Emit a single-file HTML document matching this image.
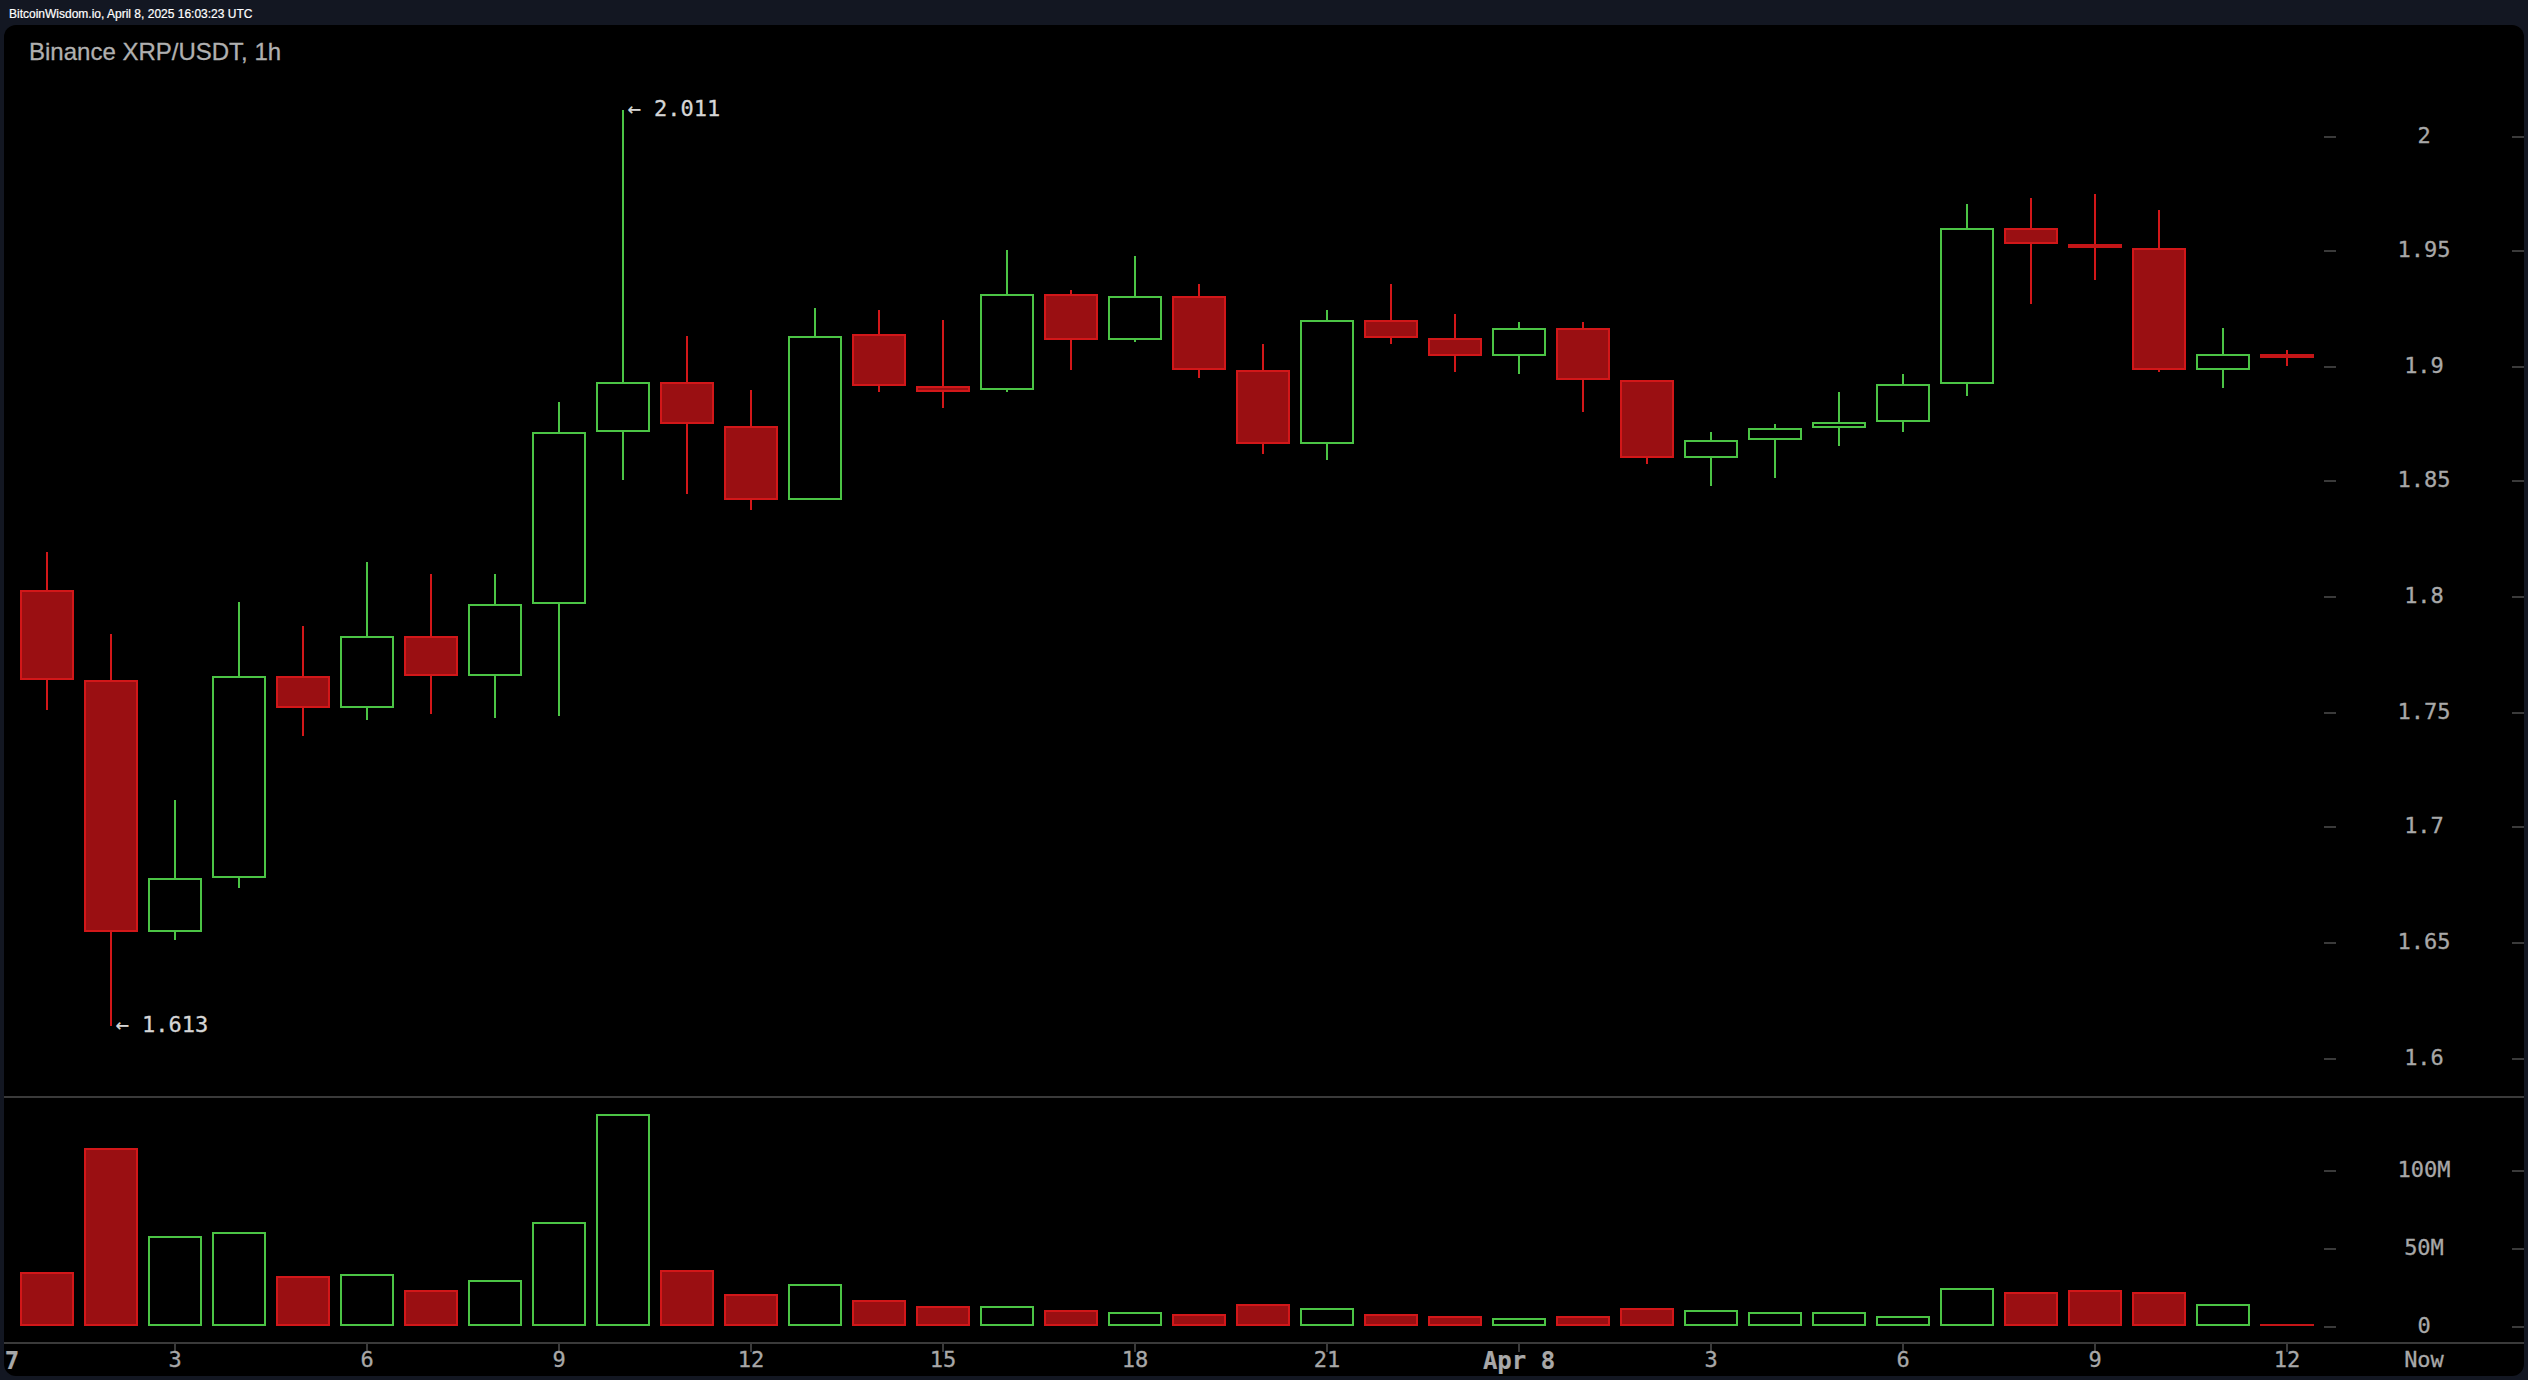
<!DOCTYPE html>
<html><head><meta charset="utf-8"><title>Binance XRP/USDT, 1h</title>
<style>
html,body{margin:0;padding:0;}
body{width:2528px;height:1380px;background:#131722;overflow:hidden;position:relative;font-family:"Liberation Sans",Arial,sans-serif;}
#hdr{position:absolute;left:9px;top:0;height:25px;line-height:25px;font-size:12px;color:#fff;white-space:nowrap;-webkit-text-stroke:0.2px #fff;}
#hdr span{position:absolute;left:0;top:6.8px;line-height:normal;}
#panel{position:absolute;left:4px;top:25px;width:2520px;height:1351px;background:#000;border-radius:12px;overflow:hidden;}
#title{position:absolute;left:25px;top:12.7px;font-size:24px;color:#b0b0b0;white-space:nowrap;line-height:normal;-webkit-text-stroke:0.3px #b0b0b0;}
svg{position:absolute;left:-4px;top:-25px;}
.ax{font-family:"DejaVu Sans Mono",monospace;font-size:22px;fill:#a8a8a8;stroke:#a8a8a8;stroke-width:0.3px;}
.b{font-weight:bold;font-size:24px;stroke-width:0.2px;}
.hl{font-family:"DejaVu Sans Mono",monospace;font-size:22px;fill:#d6d6d6;stroke:#d6d6d6;stroke-width:0.3px;}
</style></head>
<body>
<div id="hdr"><span>BitcoinWisdom.io, April 8, 2025 16:03:23 UTC</span></div>
<div id="panel">
<div id="title">Binance XRP/USDT, 1h</div>
<svg width="2528" height="1380" viewBox="0 0 2528 1380" shape-rendering="crispEdges">
<rect x="46" y="552" width="2" height="38" fill="#d21719"/>
<rect x="46" y="680" width="2" height="30" fill="#d21719"/>
<rect x="20" y="590" width="54" height="90" fill="#d21719"/>
<rect x="22" y="592" width="50" height="86" fill="#9a0f12"/>
<rect x="20" y="1272" width="54" height="54" fill="#d21719"/>
<rect x="22" y="1274" width="50" height="50" fill="#9a0f12"/>
<rect x="110" y="634" width="2" height="46" fill="#d21719"/>
<rect x="110" y="932" width="2" height="94" fill="#d21719"/>
<rect x="84" y="680" width="54" height="252" fill="#d21719"/>
<rect x="86" y="682" width="50" height="248" fill="#9a0f12"/>
<rect x="84" y="1148" width="54" height="178" fill="#d21719"/>
<rect x="86" y="1150" width="50" height="174" fill="#9a0f12"/>
<rect x="174" y="800" width="2" height="78" fill="#4bc445"/>
<rect x="174" y="932" width="2" height="8" fill="#4bc445"/>
<rect x="148" y="878" width="54" height="54" fill="#4bc445"/>
<rect x="150" y="880" width="50" height="50" fill="#000"/>
<rect x="148" y="1236" width="54" height="90" fill="#4bc445"/>
<rect x="150" y="1238" width="50" height="86" fill="#000"/>
<rect x="238" y="602" width="2" height="74" fill="#4bc445"/>
<rect x="238" y="878" width="2" height="10" fill="#4bc445"/>
<rect x="212" y="676" width="54" height="202" fill="#4bc445"/>
<rect x="214" y="678" width="50" height="198" fill="#000"/>
<rect x="212" y="1232" width="54" height="94" fill="#4bc445"/>
<rect x="214" y="1234" width="50" height="90" fill="#000"/>
<rect x="302" y="626" width="2" height="50" fill="#d21719"/>
<rect x="302" y="708" width="2" height="28" fill="#d21719"/>
<rect x="276" y="676" width="54" height="32" fill="#d21719"/>
<rect x="278" y="678" width="50" height="28" fill="#9a0f12"/>
<rect x="276" y="1276" width="54" height="50" fill="#d21719"/>
<rect x="278" y="1278" width="50" height="46" fill="#9a0f12"/>
<rect x="366" y="562" width="2" height="74" fill="#4bc445"/>
<rect x="366" y="708" width="2" height="12" fill="#4bc445"/>
<rect x="340" y="636" width="54" height="72" fill="#4bc445"/>
<rect x="342" y="638" width="50" height="68" fill="#000"/>
<rect x="340" y="1274" width="54" height="52" fill="#4bc445"/>
<rect x="342" y="1276" width="50" height="48" fill="#000"/>
<rect x="430" y="574" width="2" height="62" fill="#d21719"/>
<rect x="430" y="676" width="2" height="38" fill="#d21719"/>
<rect x="404" y="636" width="54" height="40" fill="#d21719"/>
<rect x="406" y="638" width="50" height="36" fill="#9a0f12"/>
<rect x="404" y="1290" width="54" height="36" fill="#d21719"/>
<rect x="406" y="1292" width="50" height="32" fill="#9a0f12"/>
<rect x="494" y="574" width="2" height="30" fill="#4bc445"/>
<rect x="494" y="676" width="2" height="42" fill="#4bc445"/>
<rect x="468" y="604" width="54" height="72" fill="#4bc445"/>
<rect x="470" y="606" width="50" height="68" fill="#000"/>
<rect x="468" y="1280" width="54" height="46" fill="#4bc445"/>
<rect x="470" y="1282" width="50" height="42" fill="#000"/>
<rect x="558" y="402" width="2" height="30" fill="#4bc445"/>
<rect x="558" y="604" width="2" height="112" fill="#4bc445"/>
<rect x="532" y="432" width="54" height="172" fill="#4bc445"/>
<rect x="534" y="434" width="50" height="168" fill="#000"/>
<rect x="532" y="1222" width="54" height="104" fill="#4bc445"/>
<rect x="534" y="1224" width="50" height="100" fill="#000"/>
<rect x="622" y="110" width="2" height="272" fill="#4bc445"/>
<rect x="622" y="432" width="2" height="48" fill="#4bc445"/>
<rect x="596" y="382" width="54" height="50" fill="#4bc445"/>
<rect x="598" y="384" width="50" height="46" fill="#000"/>
<rect x="596" y="1114" width="54" height="212" fill="#4bc445"/>
<rect x="598" y="1116" width="50" height="208" fill="#000"/>
<rect x="686" y="336" width="2" height="46" fill="#d21719"/>
<rect x="686" y="424" width="2" height="70" fill="#d21719"/>
<rect x="660" y="382" width="54" height="42" fill="#d21719"/>
<rect x="662" y="384" width="50" height="38" fill="#9a0f12"/>
<rect x="660" y="1270" width="54" height="56" fill="#d21719"/>
<rect x="662" y="1272" width="50" height="52" fill="#9a0f12"/>
<rect x="750" y="390" width="2" height="36" fill="#d21719"/>
<rect x="750" y="500" width="2" height="10" fill="#d21719"/>
<rect x="724" y="426" width="54" height="74" fill="#d21719"/>
<rect x="726" y="428" width="50" height="70" fill="#9a0f12"/>
<rect x="724" y="1294" width="54" height="32" fill="#d21719"/>
<rect x="726" y="1296" width="50" height="28" fill="#9a0f12"/>
<rect x="814" y="308" width="2" height="28" fill="#4bc445"/>
<rect x="788" y="336" width="54" height="164" fill="#4bc445"/>
<rect x="790" y="338" width="50" height="160" fill="#000"/>
<rect x="788" y="1284" width="54" height="42" fill="#4bc445"/>
<rect x="790" y="1286" width="50" height="38" fill="#000"/>
<rect x="878" y="310" width="2" height="24" fill="#d21719"/>
<rect x="878" y="386" width="2" height="6" fill="#d21719"/>
<rect x="852" y="334" width="54" height="52" fill="#d21719"/>
<rect x="854" y="336" width="50" height="48" fill="#9a0f12"/>
<rect x="852" y="1300" width="54" height="26" fill="#d21719"/>
<rect x="854" y="1302" width="50" height="22" fill="#9a0f12"/>
<rect x="942" y="320" width="2" height="66" fill="#d21719"/>
<rect x="942" y="392" width="2" height="16" fill="#d21719"/>
<rect x="916" y="386" width="54" height="6" fill="#d21719"/>
<rect x="918" y="388" width="50" height="2" fill="#9a0f12"/>
<rect x="916" y="1306" width="54" height="20" fill="#d21719"/>
<rect x="918" y="1308" width="50" height="16" fill="#9a0f12"/>
<rect x="1006" y="250" width="2" height="44" fill="#4bc445"/>
<rect x="1006" y="390" width="2" height="2" fill="#4bc445"/>
<rect x="980" y="294" width="54" height="96" fill="#4bc445"/>
<rect x="982" y="296" width="50" height="92" fill="#000"/>
<rect x="980" y="1306" width="54" height="20" fill="#4bc445"/>
<rect x="982" y="1308" width="50" height="16" fill="#000"/>
<rect x="1070" y="290" width="2" height="4" fill="#d21719"/>
<rect x="1070" y="340" width="2" height="30" fill="#d21719"/>
<rect x="1044" y="294" width="54" height="46" fill="#d21719"/>
<rect x="1046" y="296" width="50" height="42" fill="#9a0f12"/>
<rect x="1044" y="1310" width="54" height="16" fill="#d21719"/>
<rect x="1046" y="1312" width="50" height="12" fill="#9a0f12"/>
<rect x="1134" y="256" width="2" height="40" fill="#4bc445"/>
<rect x="1134" y="340" width="2" height="2" fill="#4bc445"/>
<rect x="1108" y="296" width="54" height="44" fill="#4bc445"/>
<rect x="1110" y="298" width="50" height="40" fill="#000"/>
<rect x="1108" y="1312" width="54" height="14" fill="#4bc445"/>
<rect x="1110" y="1314" width="50" height="10" fill="#000"/>
<rect x="1198" y="284" width="2" height="12" fill="#d21719"/>
<rect x="1198" y="370" width="2" height="8" fill="#d21719"/>
<rect x="1172" y="296" width="54" height="74" fill="#d21719"/>
<rect x="1174" y="298" width="50" height="70" fill="#9a0f12"/>
<rect x="1172" y="1314" width="54" height="12" fill="#d21719"/>
<rect x="1174" y="1316" width="50" height="8" fill="#9a0f12"/>
<rect x="1262" y="344" width="2" height="26" fill="#d21719"/>
<rect x="1262" y="444" width="2" height="10" fill="#d21719"/>
<rect x="1236" y="370" width="54" height="74" fill="#d21719"/>
<rect x="1238" y="372" width="50" height="70" fill="#9a0f12"/>
<rect x="1236" y="1304" width="54" height="22" fill="#d21719"/>
<rect x="1238" y="1306" width="50" height="18" fill="#9a0f12"/>
<rect x="1326" y="310" width="2" height="10" fill="#4bc445"/>
<rect x="1326" y="444" width="2" height="16" fill="#4bc445"/>
<rect x="1300" y="320" width="54" height="124" fill="#4bc445"/>
<rect x="1302" y="322" width="50" height="120" fill="#000"/>
<rect x="1300" y="1308" width="54" height="18" fill="#4bc445"/>
<rect x="1302" y="1310" width="50" height="14" fill="#000"/>
<rect x="1390" y="284" width="2" height="36" fill="#d21719"/>
<rect x="1390" y="338" width="2" height="6" fill="#d21719"/>
<rect x="1364" y="320" width="54" height="18" fill="#d21719"/>
<rect x="1366" y="322" width="50" height="14" fill="#9a0f12"/>
<rect x="1364" y="1314" width="54" height="12" fill="#d21719"/>
<rect x="1366" y="1316" width="50" height="8" fill="#9a0f12"/>
<rect x="1454" y="314" width="2" height="24" fill="#d21719"/>
<rect x="1454" y="356" width="2" height="16" fill="#d21719"/>
<rect x="1428" y="338" width="54" height="18" fill="#d21719"/>
<rect x="1430" y="340" width="50" height="14" fill="#9a0f12"/>
<rect x="1428" y="1316" width="54" height="10" fill="#d21719"/>
<rect x="1430" y="1318" width="50" height="6" fill="#9a0f12"/>
<rect x="1518" y="322" width="2" height="6" fill="#4bc445"/>
<rect x="1518" y="356" width="2" height="18" fill="#4bc445"/>
<rect x="1492" y="328" width="54" height="28" fill="#4bc445"/>
<rect x="1494" y="330" width="50" height="24" fill="#000"/>
<rect x="1492" y="1318" width="54" height="8" fill="#4bc445"/>
<rect x="1494" y="1320" width="50" height="4" fill="#000"/>
<rect x="1582" y="322" width="2" height="6" fill="#d21719"/>
<rect x="1582" y="380" width="2" height="32" fill="#d21719"/>
<rect x="1556" y="328" width="54" height="52" fill="#d21719"/>
<rect x="1558" y="330" width="50" height="48" fill="#9a0f12"/>
<rect x="1556" y="1316" width="54" height="10" fill="#d21719"/>
<rect x="1558" y="1318" width="50" height="6" fill="#9a0f12"/>
<rect x="1646" y="458" width="2" height="6" fill="#d21719"/>
<rect x="1620" y="380" width="54" height="78" fill="#d21719"/>
<rect x="1622" y="382" width="50" height="74" fill="#9a0f12"/>
<rect x="1620" y="1308" width="54" height="18" fill="#d21719"/>
<rect x="1622" y="1310" width="50" height="14" fill="#9a0f12"/>
<rect x="1710" y="432" width="2" height="8" fill="#4bc445"/>
<rect x="1710" y="458" width="2" height="28" fill="#4bc445"/>
<rect x="1684" y="440" width="54" height="18" fill="#4bc445"/>
<rect x="1686" y="442" width="50" height="14" fill="#000"/>
<rect x="1684" y="1310" width="54" height="16" fill="#4bc445"/>
<rect x="1686" y="1312" width="50" height="12" fill="#000"/>
<rect x="1774" y="424" width="2" height="4" fill="#4bc445"/>
<rect x="1774" y="440" width="2" height="38" fill="#4bc445"/>
<rect x="1748" y="428" width="54" height="12" fill="#4bc445"/>
<rect x="1750" y="430" width="50" height="8" fill="#000"/>
<rect x="1748" y="1312" width="54" height="14" fill="#4bc445"/>
<rect x="1750" y="1314" width="50" height="10" fill="#000"/>
<rect x="1838" y="392" width="2" height="30" fill="#4bc445"/>
<rect x="1838" y="428" width="2" height="18" fill="#4bc445"/>
<rect x="1812" y="422" width="54" height="6" fill="#4bc445"/>
<rect x="1814" y="424" width="50" height="2" fill="#000"/>
<rect x="1812" y="1312" width="54" height="14" fill="#4bc445"/>
<rect x="1814" y="1314" width="50" height="10" fill="#000"/>
<rect x="1902" y="374" width="2" height="10" fill="#4bc445"/>
<rect x="1902" y="422" width="2" height="10" fill="#4bc445"/>
<rect x="1876" y="384" width="54" height="38" fill="#4bc445"/>
<rect x="1878" y="386" width="50" height="34" fill="#000"/>
<rect x="1876" y="1316" width="54" height="10" fill="#4bc445"/>
<rect x="1878" y="1318" width="50" height="6" fill="#000"/>
<rect x="1966" y="204" width="2" height="24" fill="#4bc445"/>
<rect x="1966" y="384" width="2" height="12" fill="#4bc445"/>
<rect x="1940" y="228" width="54" height="156" fill="#4bc445"/>
<rect x="1942" y="230" width="50" height="152" fill="#000"/>
<rect x="1940" y="1288" width="54" height="38" fill="#4bc445"/>
<rect x="1942" y="1290" width="50" height="34" fill="#000"/>
<rect x="2030" y="198" width="2" height="30" fill="#d21719"/>
<rect x="2030" y="244" width="2" height="60" fill="#d21719"/>
<rect x="2004" y="228" width="54" height="16" fill="#d21719"/>
<rect x="2006" y="230" width="50" height="12" fill="#9a0f12"/>
<rect x="2004" y="1292" width="54" height="34" fill="#d21719"/>
<rect x="2006" y="1294" width="50" height="30" fill="#9a0f12"/>
<rect x="2094" y="194" width="2" height="50" fill="#d21719"/>
<rect x="2094" y="248" width="2" height="32" fill="#d21719"/>
<rect x="2068" y="244" width="54" height="4" fill="#c41517"/>
<rect x="2068" y="1290" width="54" height="36" fill="#d21719"/>
<rect x="2070" y="1292" width="50" height="32" fill="#9a0f12"/>
<rect x="2158" y="210" width="2" height="38" fill="#d21719"/>
<rect x="2158" y="370" width="2" height="2" fill="#d21719"/>
<rect x="2132" y="248" width="54" height="122" fill="#d21719"/>
<rect x="2134" y="250" width="50" height="118" fill="#9a0f12"/>
<rect x="2132" y="1292" width="54" height="34" fill="#d21719"/>
<rect x="2134" y="1294" width="50" height="30" fill="#9a0f12"/>
<rect x="2222" y="328" width="2" height="26" fill="#4bc445"/>
<rect x="2222" y="370" width="2" height="18" fill="#4bc445"/>
<rect x="2196" y="354" width="54" height="16" fill="#4bc445"/>
<rect x="2198" y="356" width="50" height="12" fill="#000"/>
<rect x="2196" y="1304" width="54" height="22" fill="#4bc445"/>
<rect x="2198" y="1306" width="50" height="18" fill="#000"/>
<rect x="2286" y="350" width="2" height="4" fill="#d21719"/>
<rect x="2286" y="358" width="2" height="8" fill="#d21719"/>
<rect x="2260" y="354" width="54" height="4" fill="#c41517"/>
<rect x="2260" y="1324" width="54" height="2" fill="#c41517"/>
<rect x="2324" y="136" width="12" height="2" fill="#3a3a3a"/>
<rect x="2512" y="136" width="12" height="2" fill="#3a3a3a"/>
<rect x="2324" y="250" width="12" height="2" fill="#3a3a3a"/>
<rect x="2512" y="250" width="12" height="2" fill="#3a3a3a"/>
<rect x="2324" y="366" width="12" height="2" fill="#3a3a3a"/>
<rect x="2512" y="366" width="12" height="2" fill="#3a3a3a"/>
<rect x="2324" y="480" width="12" height="2" fill="#3a3a3a"/>
<rect x="2512" y="480" width="12" height="2" fill="#3a3a3a"/>
<rect x="2324" y="596" width="12" height="2" fill="#3a3a3a"/>
<rect x="2512" y="596" width="12" height="2" fill="#3a3a3a"/>
<rect x="2324" y="712" width="12" height="2" fill="#3a3a3a"/>
<rect x="2512" y="712" width="12" height="2" fill="#3a3a3a"/>
<rect x="2324" y="826" width="12" height="2" fill="#3a3a3a"/>
<rect x="2512" y="826" width="12" height="2" fill="#3a3a3a"/>
<rect x="2324" y="942" width="12" height="2" fill="#3a3a3a"/>
<rect x="2512" y="942" width="12" height="2" fill="#3a3a3a"/>
<rect x="2324" y="1058" width="12" height="2" fill="#3a3a3a"/>
<rect x="2512" y="1058" width="12" height="2" fill="#3a3a3a"/>
<rect x="2324" y="1170" width="12" height="2" fill="#3a3a3a"/>
<rect x="2512" y="1170" width="12" height="2" fill="#3a3a3a"/>
<rect x="2324" y="1248" width="12" height="2" fill="#3a3a3a"/>
<rect x="2512" y="1248" width="12" height="2" fill="#3a3a3a"/>
<rect x="2324" y="1326" width="12" height="2" fill="#3a3a3a"/>
<rect x="2512" y="1326" width="12" height="2" fill="#3a3a3a"/>
<rect x="-18" y="1344" width="2" height="8" fill="#3a3a3a"/>
<rect x="174" y="1344" width="2" height="8" fill="#3a3a3a"/>
<rect x="366" y="1344" width="2" height="8" fill="#3a3a3a"/>
<rect x="558" y="1344" width="2" height="8" fill="#3a3a3a"/>
<rect x="750" y="1344" width="2" height="8" fill="#3a3a3a"/>
<rect x="942" y="1344" width="2" height="8" fill="#3a3a3a"/>
<rect x="1134" y="1344" width="2" height="8" fill="#3a3a3a"/>
<rect x="1326" y="1344" width="2" height="8" fill="#3a3a3a"/>
<rect x="1518" y="1344" width="2" height="8" fill="#3a3a3a"/>
<rect x="1710" y="1344" width="2" height="8" fill="#3a3a3a"/>
<rect x="1902" y="1344" width="2" height="8" fill="#3a3a3a"/>
<rect x="2094" y="1344" width="2" height="8" fill="#3a3a3a"/>
<rect x="2286" y="1344" width="2" height="8" fill="#3a3a3a"/>
<rect x="0" y="1096" width="2524" height="2" fill="#3a3a3a"/>
<rect x="0" y="1342" width="2524" height="2" fill="#3a3a3a"/>
<text x="2424" y="143" text-anchor="middle" class="ax">2</text>
<text x="2424" y="257" text-anchor="middle" class="ax">1.95</text>
<text x="2424" y="373" text-anchor="middle" class="ax">1.9</text>
<text x="2424" y="487" text-anchor="middle" class="ax">1.85</text>
<text x="2424" y="603" text-anchor="middle" class="ax">1.8</text>
<text x="2424" y="719" text-anchor="middle" class="ax">1.75</text>
<text x="2424" y="833" text-anchor="middle" class="ax">1.7</text>
<text x="2424" y="949" text-anchor="middle" class="ax">1.65</text>
<text x="2424" y="1065" text-anchor="middle" class="ax">1.6</text>
<text x="2424" y="1177" text-anchor="middle" class="ax">100M</text>
<text x="2424" y="1255" text-anchor="middle" class="ax">50M</text>
<text x="2424" y="1333" text-anchor="middle" class="ax">0</text>
<text x="-17" y="1369" text-anchor="middle" class="ax b">Apr 7</text>
<text x="175" y="1367" text-anchor="middle" class="ax">3</text>
<text x="367" y="1367" text-anchor="middle" class="ax">6</text>
<text x="559" y="1367" text-anchor="middle" class="ax">9</text>
<text x="751" y="1367" text-anchor="middle" class="ax">12</text>
<text x="943" y="1367" text-anchor="middle" class="ax">15</text>
<text x="1135" y="1367" text-anchor="middle" class="ax">18</text>
<text x="1327" y="1367" text-anchor="middle" class="ax">21</text>
<text x="1519" y="1369" text-anchor="middle" class="ax b">Apr 8</text>
<text x="1711" y="1367" text-anchor="middle" class="ax">3</text>
<text x="1903" y="1367" text-anchor="middle" class="ax">6</text>
<text x="2095" y="1367" text-anchor="middle" class="ax">9</text>
<text x="2287" y="1367" text-anchor="middle" class="ax">12</text>
<text x="2424" y="1367" text-anchor="middle" class="ax">Now</text>
<text x="627.5" y="116" class="hl">← 2.011</text>
<text x="115.5" y="1032" class="hl">← 1.613</text>
</svg>
</div>
</body></html>
